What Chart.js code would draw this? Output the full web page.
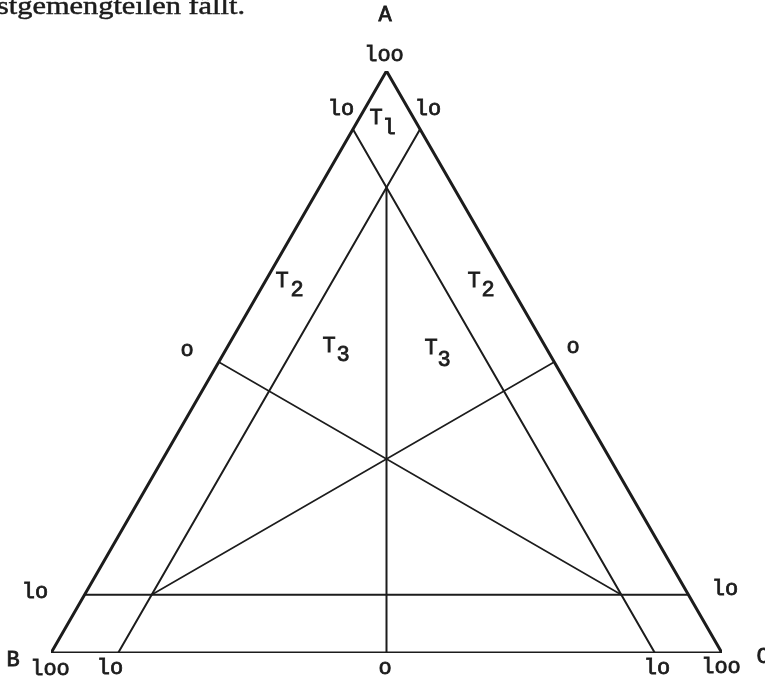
<!DOCTYPE html>
<html>
<head>
<meta charset="utf-8">
<title>Ternary diagram</title>
<script src="https://cdn.jsdelivr.net/npm/chart.js@4/dist/chart.umd.min.js"></script>
<style>
    html, body { margin: 0; padding: 0; background: #fff; }
    #wrap { width: 765px; height: 680px; }
</style>
</head>
<body>
<div id="wrap"><canvas id="chart" width="765" height="680"></canvas></div>
<script>
// Ternary points as [A, B, C] fractions
const outline   = [[1, 0, 0], [0, 1, 0], [0, 0, 1], [1, 0, 0]];
const lineA10   = [[0.1, 0.9, 0], [0.1, 0, 0.9]];
const lineB10   = [[0.9, 0.1, 0], [0, 0.1, 0.9]];
const lineC10   = [[0.9, 0, 0.1], [0, 0.9, 0.1]];
const medianC   = [[0.5, 0.5, 0], [0.1, 0.1, 0.8]];
const medianB   = [[0.5, 0, 0.5], [0.1, 0.8, 0.1]];
const medianA   = [[0.8, 0.1, 0.1], [0, 0.5, 0.5]];

// Tick labels as typed on the original (typewriter l/o)
const tickTop    = ['A', 'loo'];
const tickSide   = ['lo', 'o', 'lo'];
const tickBase   = ['loo', 'lo', 'o', 'lo', 'loo'];
const fieldNames = ['T', 'l', '2', '3'];

// ternary -> cartesian (B at 0, C at 1 on x; A height on y)
function toXY(p) {
    return { x: p[2] + p[0] / 2, y: p[0] };
}

function lineSet(points, width) {
    return {
        data: points.map(toXY),
        showLine: true,
        borderColor: '#1c1c1c',
        borderWidth: width,
        pointRadius: 0,
        borderCapStyle: 'round',
        borderJoinStyle: 'miter'
    };
}

// label placement in pixels, converted into scale units below
const PX = { left: 51, right: 722, top: 71, bottom: 653 };
function px(x, y) {
    return {
        x: (x - PX.left) / (PX.right - PX.left),
        y: (PX.bottom - y) / (PX.bottom - PX.top)
    };
}

const labels = [
    { t: tickTop[0], p: px(385, 15) },
    { t: tickTop[1], p: px(384, 55) },
    { t: tickSide[0], p: px(341, 109) },
    { t: tickSide[0], p: px(428, 109) },
    { t: tickSide[1], p: px(187, 350) },
    { t: tickSide[1], p: px(573, 347) },
    { t: tickSide[2], p: px(35, 592) },
    { t: tickSide[2], p: px(725, 589) },
    { t: 'B', p: px(13, 660) },
    { t: 'C', p: px(763, 657) },
    { t: tickBase[0], p: px(50, 669) },
    { t: tickBase[1], p: px(110, 668) },
    { t: tickBase[2], p: px(385, 668) },
    { t: tickBase[3], p: px(657, 668) },
    { t: tickBase[4], p: px(721, 667) },
    { t: fieldNames[0], p: px(376, 118) },
    { t: fieldNames[1], p: px(389, 128) },
    { t: fieldNames[0], p: px(282, 281) },
    { t: fieldNames[2], p: px(297, 290) },
    { t: fieldNames[0], p: px(474, 281) },
    { t: fieldNames[2], p: px(488, 290) },
    { t: fieldNames[0], p: px(329, 346) },
    { t: fieldNames[3], p: px(343, 355) },
    { t: fieldNames[0], p: px(431, 348) },
    { t: fieldNames[3], p: px(444, 360) }
];

const textPlugin = {
    id: 'ternaryText',
    afterDatasetsDraw(chart) {
        const ctx = chart.ctx;
        const xs = chart.scales.x, ys = chart.scales.y;
        ctx.save();
        ctx.fillStyle = '#1c1c1c';
        ctx.strokeStyle = '#1c1c1c';
        ctx.lineWidth = 0.8;
        ctx.font = '22px "Courier New", "Liberation Mono", Courier, monospace';
        ctx.textAlign = 'center';
        ctx.textBaseline = 'middle';
        labels.forEach(l => {
            const x = xs.getPixelForValue(l.p.x), y = ys.getPixelForValue(l.p.y);
            ctx.fillText(l.t, x, y);
            ctx.strokeText(l.t, x, y);
        });

        // running text of the page, cut at the top-left
        const line = 'stgemengteilen fällt.';
        ctx.font = '26px "Liberation Serif", "DejaVu Serif", serif';
        ctx.textAlign = 'left';
        ctx.textBaseline = 'alphabetic';
        ctx.lineWidth = 0.5;
        const w = ctx.measureText(line).width;
        ctx.translate(-3, 14);
        ctx.scale(248 / w, 1);
        ctx.fillText(line, 0, 0);
        ctx.strokeText(line, 0, 0);
        ctx.restore();
    }
};

new Chart(document.getElementById('chart'), {
    type: 'scatter',
    data: {
        datasets: [
            lineSet(lineA10, 2),
            lineSet(lineB10, 2),
            lineSet(lineC10, 2),
            lineSet(medianC, 1.6),
            lineSet(medianB, 1.6),
            lineSet(medianA, 2),
            lineSet(outline, 3)
        ]
    },
    options: {
        responsive: false,
        devicePixelRatio: 1,
        animation: false,
        layout: {
            padding: { left: PX.left, right: 765 - PX.right, top: PX.top, bottom: 680 - PX.bottom }
        },
        scales: {
            x: { type: 'linear', min: 0, max: 1, display: false },
            y: { type: 'linear', min: 0, max: 1, display: false }
        },
        plugins: {
            legend: { display: false },
            tooltip: { enabled: false }
        }
    },
    plugins: [textPlugin]
});
</script>
</body>
</html>
